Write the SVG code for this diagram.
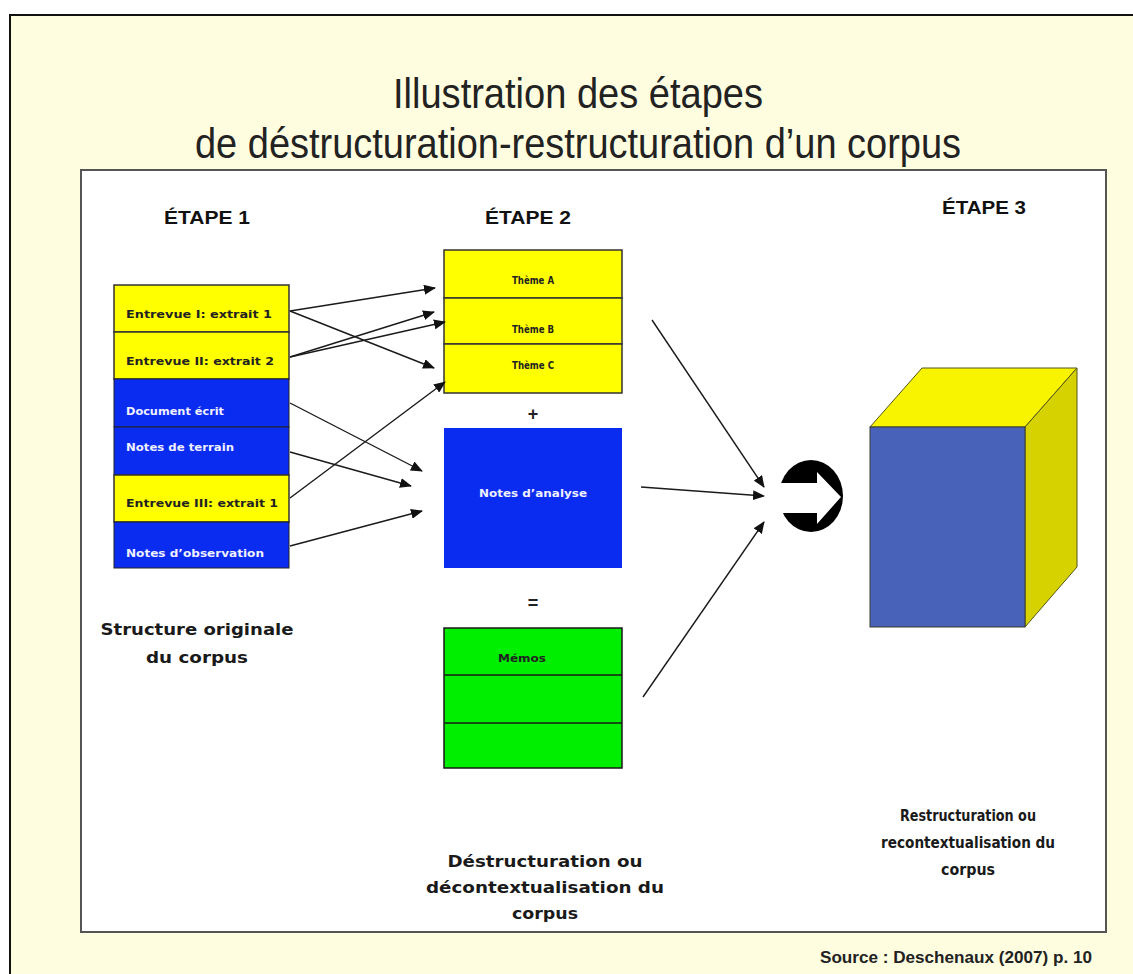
<svg xmlns="http://www.w3.org/2000/svg" width="1133" height="974" viewBox="0 0 1133 974">
<defs>
<marker id="ah" viewBox="0 0 12 10" refX="11" refY="5" markerWidth="12" markerHeight="10" markerUnits="userSpaceOnUse" orient="auto">
<path d="M0,0 L12,5 L0,10 Z" fill="#111"/>
</marker>
</defs>
<style>
.title{font-family:"Liberation Sans Narrow","Liberation Sans",Arial,sans-serif;font-size:43px;fill:#222;text-anchor:middle}
.etape{font-family:"Liberation Sans Narrow","Liberation Sans",sans-serif;font-size:19px;font-weight:bold;fill:#111}
.cell{font-family:"DejaVu Sans",Verdana,sans-serif;font-size:10px;font-weight:bold}
.dark{fill:#222}
.light{fill:#f0f0ff}
.lbl{font-family:"DejaVu Sans Condensed","DejaVu Sans",sans-serif;font-size:16px;font-weight:bold;fill:#1a1a1a;text-anchor:middle}
.op{font-family:"Liberation Sans",sans-serif;font-size:18px;font-weight:bold;fill:#222;text-anchor:middle}
.conn line{stroke:#1a1a1a;stroke-width:1.4;marker-end:url(#ah)}
.y{fill:#ffff00;stroke:#333;stroke-width:1.5}
.b{fill:#0a2cf0;stroke:#222;stroke-width:1}
.g{fill:#00ee00;stroke:#1a1a1a;stroke-width:1.5}
</style>
<rect x="0" y="0" width="1133" height="974" fill="#ffffff"/>
<rect x="10" y="15" width="1140" height="980" fill="#fffde0" stroke="#111" stroke-width="2"/>
<text class="title" x="578" y="108" textLength="370" lengthAdjust="spacingAndGlyphs">Illustration des étapes</text>
<text class="title" x="578" y="158" textLength="766" lengthAdjust="spacingAndGlyphs">de déstructuration-restructuration d’un corpus</text>
<rect x="81" y="170" width="1025" height="762" fill="#ffffff" stroke="#555" stroke-width="2"/>

<text class="etape" x="164" y="224" textLength="86" lengthAdjust="spacingAndGlyphs">ÉTAPE 1</text>
<text class="etape" x="485" y="224" textLength="86" lengthAdjust="spacingAndGlyphs">ÉTAPE 2</text>
<text class="etape" x="942" y="214" textLength="84" lengthAdjust="spacingAndGlyphs">ÉTAPE 3</text>

<g id="corpus-original">
<rect class="y" x="114" y="285" width="175" height="47"/>
<text class="cell dark" x="126" y="318" textLength="146" lengthAdjust="spacingAndGlyphs">Entrevue I: extrait 1</text>
<rect class="y" x="114" y="332" width="175" height="47"/>
<text class="cell dark" x="126" y="365" textLength="148" lengthAdjust="spacingAndGlyphs">Entrevue II: extrait 2</text>
<rect class="b" x="114" y="379" width="175" height="48"/>
<text class="cell light" x="126" y="415" textLength="98" lengthAdjust="spacingAndGlyphs">Document écrit</text>
<rect class="b" x="114" y="427" width="175" height="48"/>
<text class="cell light" x="126" y="451" textLength="108" lengthAdjust="spacingAndGlyphs">Notes de terrain</text>
<rect class="y" x="114" y="475" width="175" height="47"/>
<text class="cell dark" x="126" y="507" textLength="152" lengthAdjust="spacingAndGlyphs">Entrevue III: extrait 1</text>
<rect class="b" x="114" y="522" width="175" height="46"/>
<text class="cell light" x="126" y="557" textLength="138" lengthAdjust="spacingAndGlyphs">Notes d’observation</text>
</g>

<g id="themes">
<rect class="y" x="444" y="250" width="178" height="48"/>
<text class="cell dark" x="533" y="284" text-anchor="middle" textLength="42" lengthAdjust="spacingAndGlyphs">Thème A</text>
<rect class="y" x="444" y="298" width="178" height="46"/>
<text class="cell dark" x="533" y="333" text-anchor="middle" textLength="42" lengthAdjust="spacingAndGlyphs">Thème B</text>
<rect class="y" x="444" y="344" width="178" height="49"/>
<text class="cell dark" x="533" y="369" text-anchor="middle" textLength="42" lengthAdjust="spacingAndGlyphs">Thème C</text>
</g>
<text class="op" x="533" y="420">+</text>
<g id="notes-analyse">
<rect x="444" y="428" width="178" height="140" fill="#0a2cf0"/>
<text class="cell light" x="533" y="497" text-anchor="middle" textLength="108" lengthAdjust="spacingAndGlyphs">Notes d’analyse</text>
</g>
<text class="op" x="533" y="609">=</text>
<g id="memos">
<rect class="g" x="444" y="628" width="178" height="140"/>
<line x1="444" y1="675" x2="622" y2="675" stroke="#1a1a1a" stroke-width="1.5"/>
<line x1="444" y1="723" x2="622" y2="723" stroke="#1a1a1a" stroke-width="1.5"/>
<text class="cell dark" x="522" y="662" text-anchor="middle" textLength="48" lengthAdjust="spacingAndGlyphs">Mémos</text>
</g>

<g id="fleche-cercle">
<ellipse cx="811" cy="496" rx="32" ry="36" fill="#000"/>
<path d="M776,483 L817,483 L817,472 L841,497 L817,524 L817,513 L776,513 Z" fill="#fff"/>
</g>

<g id="cube">
<polygon points="870,427 922,368 1077,368 1025,427" fill="#f8f400" stroke="#55551a" stroke-width="1"/>
<polygon points="1025,427 1077,368 1077,567 1025,627" fill="#d6d200" stroke="#55551a" stroke-width="1"/>
<rect x="870" y="427" width="155" height="200" fill="#4862ba" stroke="#3a3a30" stroke-width="1"/>
</g>

<g class="conn" id="connecteurs">
<line x1="290" y1="311" x2="435" y2="288"/>
<line x1="290" y1="311" x2="434" y2="368"/>
<line x1="290" y1="357" x2="434" y2="312"/>
<line x1="290" y1="357" x2="445" y2="322"/>
<line x1="290" y1="403" x2="422" y2="471"/>
<line x1="290" y1="452" x2="411" y2="486"/>
<line x1="290" y1="498" x2="445" y2="382"/>
<line x1="290" y1="546" x2="422" y2="511"/>
<line x1="652" y1="320" x2="764" y2="487"/>
<line x1="641" y1="487" x2="764" y2="496"/>
<line x1="643" y1="697" x2="764" y2="522"/>
</g>

<text class="lbl" x="197" y="635" textLength="193" lengthAdjust="spacingAndGlyphs">Structure originale</text>
<text class="lbl" x="197" y="663" textLength="102" lengthAdjust="spacingAndGlyphs">du corpus</text>

<text class="lbl" x="545" y="867" textLength="195" lengthAdjust="spacingAndGlyphs">Déstructuration ou</text>
<text class="lbl" x="545" y="893" textLength="238" lengthAdjust="spacingAndGlyphs">décontextualisation du</text>
<text class="lbl" x="545" y="919" textLength="66" lengthAdjust="spacingAndGlyphs">corpus</text>

<text class="lbl" x="968" y="821" textLength="136" lengthAdjust="spacingAndGlyphs">Restructuration ou</text>
<text class="lbl" x="968" y="848" textLength="174" lengthAdjust="spacingAndGlyphs">recontextualisation du</text>
<text class="lbl" x="968" y="875" textLength="54" lengthAdjust="spacingAndGlyphs">corpus</text>

<text x="820" y="963" font-family="Liberation Sans Narrow, Liberation Sans, sans-serif" font-size="17" font-weight="bold" fill="#222" textLength="272" lengthAdjust="spacingAndGlyphs">Source : Deschenaux (2007) p. 10</text>
</svg>
